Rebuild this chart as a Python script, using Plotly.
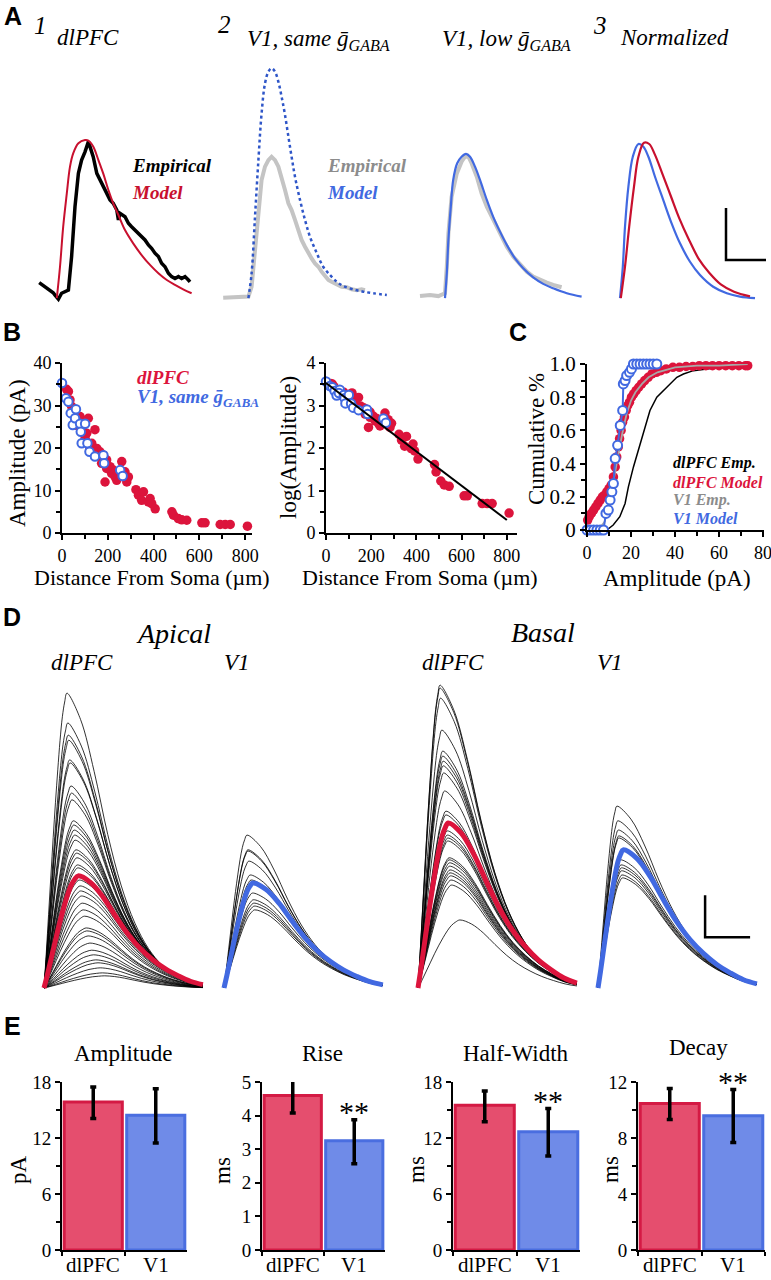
import math
import plotly.graph_objects as go

W, H = 771, 1280
SERIF = "Liberation Serif, Times New Roman, serif"
SANS = "Liberation Sans, Arial, sans-serif"

RED = "#DC143C"
RED_A = "#C8102E"
BLUE = "#4169E1"
BLUE_DOT = "#2F56C8"
GRAY = "#C4C4C4"
RED_FILL = "#E54E6E"
RED_EDGE = "#D41A44"
BLUE_FILL = "#6F8BE8"
BLUE_EDGE = "#4A6EE0"

# ---------------- Panel A : example currents (ms, pA) ----------------
A1_EMP_T = [0.3, 1.75, 3, 3.8, 4.25, 5.1, 5.9, 6.75, 7.6, 8.4, 9.25, 10.1, 10.9, 11.75, 12.6, 13, 13.8, 14.7, 15.5,
            16.3, 17.2, 18, 18.8, 19.7, 20.1, 20.5, 21.75, 22.6, 23.4, 24.25, 25.1, 25.9, 26.75, 27.6, 28.4, 29.25,
            30.1, 30.9, 31.75, 32.6, 33.4, 34.25, 35.1, 35.9, 36.75, 37.6, 38]
A1_EMP_I = [6.7, 5.1, 3.8, 2.8, 1.9, 0.3, 2.6, 3.2, 3.8, 16.7, 35.9, 48.7, 53.8, 57, 60.9, 59, 55.1, 48.7, 46.2,
            43.6, 41, 38.5, 37.2, 34.6, 30.8, 33.3, 32, 29.5, 28.2, 26.9, 25.7, 24.3, 23.1, 21.2, 19.9, 18,
            16.7, 14.1, 12.8, 10.3, 9, 8.3, 9, 8.3, 9, 7.7, 7]
A1_MODEL_T = [4.7, 5.5, 6.3, 7.2, 8, 8.8, 10.1, 11.75, 12.6, 13.8, 15.1, 16.3, 17.6, 18.8, 20.1, 21.75, 23.8, 25.9,
              28, 30.1, 32.2, 34.25, 36.3, 38.4]
A1_MODEL_I = [0.7, 12.8, 28.2, 41, 51.3, 56.4, 60.3, 61.5, 61.3, 59, 53.8, 48.7, 42.3, 37.2, 32.7, 26.9, 21.8, 17.3,
              13.5, 10.3, 7.7, 5.8, 4.1, 2.6]

A2_EMP_T = [0.3, 6.6, 7.4, 8.25, 9.1, 9.9, 10.75, 11.6, 12.4, 13.25, 14.1, 14.9, 15.75, 16.6, 17.4, 18.25, 19.1,
            19.9, 20.75, 21.6, 22.4, 23.25, 24.1, 24.9, 25.75, 26.6, 27.4, 28.25, 29.1, 29.9, 31.2, 32.4, 33.7,
            34.9, 35.75]
A2_EMP_I = [0.9, 1.3, 5.1, 19.2, 35.9, 46.2, 51.3, 53.8, 55.1, 53.8, 51.3, 47.4, 42.3, 37.2, 34.6, 30.8, 26.9,
            23.1, 20.5, 18, 16, 14.1, 12.8, 10.9, 9, 7.7, 7, 6.4, 5.8, 5.1, 4.9, 4.1, 3.8, 4.1, 3.8]
A2_MODEL_T = [6.6, 7.4, 8.25, 9.1, 9.9, 10.75, 11.6, 12.4, 13.25, 14.1, 14.9, 15.75, 16.6, 17.4, 18.25, 19.5,
              20.75, 22, 23.7, 25.3, 27, 28.7, 30.3, 32.8, 35.3, 37.8, 41.2]
A2_MODEL_I = [0.7, 10.3, 32, 53.8, 71.8, 83.3, 87.8, 89.1, 87.8, 83.9, 78.2, 71.2, 62.8, 55.1, 47.4, 38.5, 30.8,
              24.3, 18, 12.8, 9.6, 7, 5.4, 4.1, 3.2, 2.6, 1.9]

A3_EMP_T = [0.5, 3, 5.1, 6.75, 7.2, 7.6, 8.4, 9.7, 10.9, 11.75, 12.6, 13.4, 14.7, 15.9, 17.2, 18.8, 20.5, 22.2,
            23.8, 25.5, 27.2, 28.8, 30.5, 32.2, 33.8, 35.9]
A3_EMP_I = [1.5, 1.9, 1.5, 2.6, 12.8, 25.6, 39.7, 48.7, 53.2, 55.1, 55.1, 52.6, 47.4, 41, 35.9, 30.8, 25.6, 20.5,
            16.7, 13.5, 10.9, 9, 7.7, 6.7, 5.8, 4.9]
A3_MODEL_T = [6.75, 7.2, 7.6, 8.2, 8.8, 9.8, 10.9, 12, 13, 14.25, 15.5, 17.2, 18.8, 20.5, 22.2, 24.25, 26.3, 28.8,
              31.3, 33.8, 37.2, 40.9]
A3_MODEL_I = [0.7, 10.3, 23.1, 35.9, 46.2, 52.6, 55.1, 56.2, 55.1, 51.3, 46.2, 38.5, 32, 26.3, 21.2, 16, 12.2, 8.7,
              6.2, 4.5, 2.6, 1.3]

A4_V1_T = [0.5, 1.2, 1.75, 2.6, 3.7, 5.1, 6.3, 7.6, 9.25, 11.3, 13.4, 15.5, 18, 20.5, 23.8, 27.2, 30.5, 34.25]
A4_V1_I = [0.7, 12.8, 28.2, 43.6, 55.1, 60, 59, 55.1, 47.4, 38.5, 29.5, 21.8, 14.7, 9.6, 5.1, 2.6, 1.3, 0.7]
A4_DLPFC_T = [0.7, 1.75, 2.8, 4, 5.1, 6.5, 7.8, 9.2, 11.1, 13.2, 15.3, 17.8, 20.3, 22.8, 25.7, 29, 33]
A4_DLPFC_I = [0.7, 12.8, 28.2, 43.6, 55.1, 60.5, 60, 56, 48.5, 40, 31.5, 23, 15.5, 10.5, 6, 3.2, 1.4]

A_SCALE_MS, A_SCALE_PA = 10, 20
A_SCALE_AT = (27, 15.4)

# ---------------- Panel B : amplitude vs distance ----------------
B_DLPFC_DIST = [20, 28, 35, 42, 57, 79, 93, 115, 108, 144, 86, 130, 152, 166, 181, 195, 188, 210, 224, 239, 254, 261,
                275, 283, 290, 239, 217, 323, 334, 356, 348, 377, 385, 407, 392, 480, 487, 508, 523, 545, 611, 625,
                691, 713, 735, 810, 57, 71, 101, 122, 137, 159, 173, 195, 232, 246, 268]
B_DLPFC_AMP = [33.8, 33.3, 31.3, 29.8, 28.2, 27.4, 25.4, 27, 23.5, 24.3, 23.9, 21.1, 19.9, 19.1, 18.3, 17.2, 12, 15.6,
               14.8, 14, 13.6, 16.8, 14.4, 12, 13.2, 12.4, 14, 10.2, 8.9, 9.7, 7.7, 7.3, 8.1, 5.7, 6.9, 5, 4.2, 3.4,
               3.1, 3, 2.4, 2.4, 2, 2, 2, 1.6, 26.3, 25.2, 22.3, 19.9, 19.1, 18, 16.4, 15.2, 13.2, 14, 13.6]
B_V1_DIST = [0, 17, 28, 38, 47, 61, 57, 79, 82, 101, 86, 111, 120, 144, 181, 184, 254, 265]
B_V1_AMP = [35.3, 31.7, 30.9, 28.2, 25.4, 29.1, 27, 25.7, 23.8, 25.7, 21.1, 21.1, 19.1, 18, 18.3, 16.4, 14.8, 13.4]
B_FIT_X = [0, 800]
B_FIT_INTERCEPT, B_FIT_SLOPE = 3.53, -0.00403

# ---------------- Panel C : cumulative distributions ----------------
C_DLPFC_EMP_X = [0, 9.0, 11.9, 14.9, 17.3, 18.8, 21.1, 23.3, 25.6, 28.6, 31.7, 34.7, 37.7, 40.8, 43.8, 48.3, 54.4,
                 60.5, 66.5, 72.6]
C_DLPFC_EMP_Y = [0, 0, 0.03, 0.08, 0.16, 0.26, 0.38, 0.48, 0.58, 0.72, 0.80, 0.84, 0.88, 0.92, 0.94, 0.96, 0.97,
                 0.98, 0.98, 0.99]
C_V1_EMP_X = [5, 8, 10, 12, 14, 16, 18, 20, 22, 25, 28, 32, 40, 50, 60, 73]
C_V1_EMP_Y = [0, 0.05, 0.15, 0.3, 0.45, 0.58, 0.7, 0.78, 0.83, 0.88, 0.92, 0.95, 0.98, 0.99, 0.99, 1.0]
C_DLPFC_MODEL_X = [0.3, 1, 2, 3, 4, 5, 6, 7, 8, 9, 10, 11, 12, 12.8, 13.5, 14.2, 14.8, 15.5, 16.2, 17, 17.8, 18.5,
                   19.3, 20.2, 21.2, 22.3, 23.5, 24.8, 26.2, 27.8, 29.5, 31.5, 33.5, 36, 39, 42, 45, 48, 51, 54, 57,
                   60, 63, 66, 69, 72, 73]
C_DLPFC_MODEL_Y = [0.06, 0.08, 0.1, 0.12, 0.14, 0.16, 0.18, 0.2, 0.21, 0.23, 0.25, 0.27, 0.32, 0.38, 0.44, 0.5,
                   0.55, 0.6, 0.65, 0.68, 0.72, 0.75, 0.77, 0.8, 0.82, 0.84, 0.86, 0.88, 0.9, 0.92, 0.94, 0.95, 0.96,
                   0.97, 0.98, 0.98, 0.985, 0.985, 0.99, 0.99, 0.99, 0.99, 0.99, 0.99, 0.99, 0.99, 0.99]
C_V1_MODEL_X = [0, 1.5, 3, 4.5, 6, 7.5, 8.6, 9.7, 10.5, 11.3, 12, 12.8, 13.9, 15.1, 16.2, 16.5, 17.3, 18, 19.3, 20.2,
                21.1, 22.6, 24.1, 25.6, 27.1, 28.6, 30.1, 31.7]
C_V1_MODEL_Y = [0, 0, 0, 0, 0, 0, 0.1, 0.12, 0.18, 0.23, 0.28, 0.43, 0.51, 0.63, 0.72, 0.88, 0.9, 0.93, 0.95, 0.97,
                1, 1, 1, 1, 1, 1, 1, 1]

# ---------------- Panel D : simulated currents per synapse ----------------
D_APICAL_DLPFC_AMP = [70.2, 63.1, 60.2, 59.0, 54.3, 53.6, 48.1, 46.4, 44.8, 39.8, 38.8, 37.6, 36.4, 35.2, 32.9, 32.1,
                      31.0, 29.3, 28.6, 25.7, 24.3, 23.1, 21.9, 20.2, 18.6, 17.1, 14.3, 13.6, 12.4, 10.7, 9.0, 7.9,
                      6.7, 6.0, 4.8, 3.6, 2.9]
D_APICAL_DLPFC_TP = [5.1, 5.3, 5.4, 5.5, 5.7, 5.8, 6.0, 6.1, 6.2, 6.5, 6.6, 6.7, 6.8, 6.9, 7.1, 7.2, 7.3, 7.4, 7.5,
                     7.8, 8.0, 8.1, 8.3, 8.5, 8.7, 9.0, 9.4, 9.5, 9.8, 10.2, 10.6, 11.0, 11.5, 12.0, 12.5, 13.0, 13.5]
D_APICAL_DLPFC_MEAN = (26.7, 7.6)
D_APICAL_V1_AMP = [36.4, 32.9, 32.6, 30.2, 26.9, 25.7, 22.6, 21.0, 20.2, 19.5, 18.6]
D_APICAL_V1_TP = [5.1, 5.3, 5.3, 5.5, 5.8, 6.0, 6.3, 6.5, 6.6, 6.7, 6.8]
D_APICAL_V1_MEAN = (25.0, 6.4)
D_BASAL_DLPFC_AMP = [72.1, 71.4, 69.0, 61.4, 56.4, 55.2, 54.0, 52.9, 51.2, 46.9, 42.1, 41.2, 37.4, 36.4, 35.7, 35.0,
                     31.0, 30.5, 29.8, 29.0, 28.1, 27.4, 26.7, 25.7, 24.5, 16.2]
D_BASAL_DLPFC_TP = [4.9, 4.9, 5.0, 5.3, 5.5, 5.5, 5.6, 5.6, 5.7, 5.9, 6.2, 6.2, 6.5, 6.5, 6.6, 6.6, 6.9, 6.9, 7.0, 7.0,
                    7.1, 7.1, 7.2, 7.3, 7.4, 9.3]
D_BASAL_DLPFC_MEAN = (39.3, 6.7)
D_BASAL_V1_AMP = [43.3, 39.8, 37.6, 36.2, 35.7, 30.5, 29.3, 28.6, 27.9, 26.9, 26.2]
D_BASAL_V1_TP = [4.2, 4.4, 4.5, 4.6, 4.6, 5.0, 5.1, 5.2, 5.2, 5.3, 5.4]
D_BASAL_V1_MEAN = (32.9, 5.6)
D_T_END = 35.3
# waveform template (fractions of rise / decay time)
KNOT_FRAC = [0.0, 0.1, 0.2, 0.3, 0.4, 0.5, 0.6, 0.7, 0.8, 0.9, 1.0]
RISE_SHAPE = [0.0, 0.12, 0.25, 0.38, 0.51, 0.63, 0.74, 0.84, 0.92, 0.97, 1.0]
DECAY_SHAPE = [1.0, 0.94, 0.81, 0.64, 0.48, 0.35, 0.25, 0.17, 0.11, 0.06, 0.03]
MERGE_WEIGHT = [0.0, 0.05, 0.15, 0.3, 0.45, 0.6, 0.75, 0.88, 1.0, 1.0, 1.0]
D_SCALE_MS, D_SCALE_PA = 10, 10
D_SCALE_AT = (23.8, 12.1)

# ---------------- Panel E : summary bars ----------------
E_GROUPS = ["dlPFC", "V1"]
E_AMP_MEAN, E_AMP_LOW, E_AMP_HIGH = [15.86, 14.43], [14.08, 11.47], [17.46, 17.28]
E_RISE_MEAN, E_RISE_LOW, E_RISE_HIGH = [4.6, 3.25], [4.08, 2.57], [5.07, 3.88]
E_HW_MEAN, E_HW_LOW, E_HW_HIGH = [15.51, 12.67], [13.74, 10.08], [17.04, 15.16]
E_DECAY_MEAN, E_DECAY_LOW, E_DECAY_HIGH = [10.46, 9.59], [9.33, 7.67], [11.53, 11.46]
E_TITLES = ["Amplitude", "Rise", "Half-Width", "Decay"]
E_UNITS = ["pA", "ms", "ms", "ms"]
E_SIG = ["", "**", "**", "**"]


# ================= helpers =================
def dx(a, b):
    return [a / W, b / W]


def dy(top, bottom):
    return [1 - bottom / H, 1 - top / H]


def hidden(domain, rng, anchor):
    return dict(domain=domain, range=rng, visible=False, fixedrange=True, anchor=anchor, automargin=False)


def shown(domain, rng, anchor, dtick=None, minor=None, size=18, tickvals=None, ticktext=None, ticklen=5):
    ax = dict(domain=domain, range=rng, anchor=anchor, showline=True, linecolor="black", linewidth=2,
              ticks="outside", ticklen=ticklen, tickwidth=2, tickcolor="black", showgrid=False, zeroline=False,
              tickfont=dict(family=SERIF, size=size, color="black"), fixedrange=True, automargin=False,
              tickangle=0)
    if dtick is not None:
        ax.update(dtick=dtick, tick0=0)
    if tickvals is not None:
        ax.update(tickmode="array", tickvals=tickvals, ticktext=ticktext)
    if minor is not None:
        ax["minor"] = dict(ticks="outside", dtick=minor, tick0=0, ticklen=4, tickwidth=1.5, tickcolor="black",
                           showgrid=False)
    return ax


def epsc(amp, tp, mean_amp, t_end):
    t = [tp * f for f in KNOT_FRAC] + [tp + (t_end - tp) * f for f in KNOT_FRAC[1:]]
    y = [amp * r for r in RISE_SHAPE]
    if amp > mean_amp:
        y += [d * (amp * (1 - w) + mean_amp * w) for d, w in zip(DECAY_SHAPE[1:], MERGE_WEIGHT[1:])]
    else:
        y += [amp * d for d in DECAY_SHAPE[1:]]
    return t, y


fig = go.Figure()
layout = {}

# ---------------- Panel A axes ----------------
A_PX_MS, A_PX_PA = 4.0, 2.6
A_YDOM = dy(55, 305)
A_YRNG = [-(305 - 300) / A_PX_PA, (300 - 55) / A_PX_PA]
A_PANELS = [(36, 206, 38), (220, 392, 222), (416, 588, 418), (616, 771, 618)]
for i, (l, r, o) in enumerate(A_PANELS, start=1):
    n = "" if i == 1 else str(i)
    layout["xaxis" + n] = hidden(dx(l, r), [(l - o) / A_PX_MS, (r - o) / A_PX_MS], "y" + n)
    layout["yaxis" + n] = hidden(A_YDOM, A_YRNG, "x" + n)


def line(x, y, ax, color, width, dash="solid", shape="linear"):
    return go.Scatter(x=x, y=y, xaxis="x" + ax, yaxis="y" + ax, mode="lines",
                      line=dict(color=color, width=width, dash=dash, shape=shape), hoverinfo="skip")


fig.add_trace(line(A1_EMP_T, A1_EMP_I, "", "black", 3.5))
fig.add_trace(line(A1_MODEL_T, A1_MODEL_I, "", RED_A, 2, shape="spline"))
fig.add_trace(line(A2_EMP_T, A2_EMP_I, "2", GRAY, 4))
fig.add_trace(line(A2_MODEL_T, A2_MODEL_I, "2", BLUE_DOT, 2.5, dash="dot", shape="spline"))
fig.add_trace(line(A3_EMP_T, A3_EMP_I, "3", GRAY, 4))
fig.add_trace(line(A3_MODEL_T, A3_MODEL_I, "3", BLUE, 2.2, shape="spline"))
fig.add_trace(line(A4_V1_T, A4_V1_I, "4", BLUE, 2.2, shape="spline"))
fig.add_trace(line(A4_DLPFC_T, A4_DLPFC_I, "4", RED_A, 2.2, shape="spline"))
sx, sy = A_SCALE_AT
fig.add_trace(line([sx, sx, sx + A_SCALE_MS], [sy + A_SCALE_PA, sy, sy], "4", "black", 2.5))

# ---------------- Panel B ----------------
layout["xaxis5"] = shown(dx(62, 252), [0, 830], "y5", dtick=200, minor=100)
layout["yaxis5"] = shown(dy(363, 533), [0, 40], "x5", dtick=10, minor=5)
layout["xaxis6"] = shown(dx(326, 517), [0, 845], "y6", dtick=200, minor=100)
layout["yaxis6"] = shown(dy(363, 533), [0, 4], "x6", dtick=1, minor=0.5)

fig.add_trace(go.Scatter(x=B_DLPFC_DIST, y=B_DLPFC_AMP, xaxis="x5", yaxis="y5", mode="markers", cliponaxis=False,
                         marker=dict(color=RED, size=9.5, line=dict(width=0)), hoverinfo="skip"))
fig.add_trace(go.Scatter(x=B_V1_DIST, y=B_V1_AMP, xaxis="x5", yaxis="y5", mode="markers", cliponaxis=False,
                         marker=dict(color="white", size=8.5, line=dict(color=BLUE, width=2)), hoverinfo="skip"))
fig.add_trace(go.Scatter(x=B_DLPFC_DIST, y=[math.log(a) for a in B_DLPFC_AMP], xaxis="x6", yaxis="y6",
                         mode="markers", cliponaxis=False,
                         marker=dict(color=RED, size=9.5, line=dict(width=0)), hoverinfo="skip"))
fig.add_trace(go.Scatter(x=B_V1_DIST, y=[math.log(a) for a in B_V1_AMP], xaxis="x6", yaxis="y6", mode="markers",
                         cliponaxis=False, marker=dict(color="white", size=8.5, line=dict(color=BLUE, width=2)),
                         hoverinfo="skip"))
fig.add_trace(line(B_FIT_X, [B_FIT_INTERCEPT + B_FIT_SLOPE * x for x in B_FIT_X], "6", "black", 2))

# ---------------- Panel C ----------------
layout["xaxis7"] = shown(dx(587, 764), [0, 80.4], "y7", dtick=20, minor=10)
layout["xaxis7"]["ticklabeloverflow"] = "allow"
layout["yaxis7"] = shown(dy(364, 530), [0, 1], "x7", minor=0.1, size=21,
                         tickvals=[0, 0.2, 0.4, 0.6, 0.8, 1.0], ticktext=["0", "0.2", "0.4", "0.6", "0.8", "1.0"])
fig.add_trace(line(C_DLPFC_EMP_X, C_DLPFC_EMP_Y, "7", "black", 1.5))
fig.add_trace(go.Scatter(x=C_DLPFC_MODEL_X, y=C_DLPFC_MODEL_Y, xaxis="x7", yaxis="y7", mode="lines+markers",
                         cliponaxis=False, line=dict(color=RED, width=3),
                         marker=dict(color=RED, size=9.5, line=dict(width=0)), hoverinfo="skip"))
fig.add_trace(line(C_V1_EMP_X, C_V1_EMP_Y, "7", "#A8A8A8", 1.8))
fig.add_trace(go.Scatter(x=C_V1_MODEL_X, y=C_V1_MODEL_Y, xaxis="x7", yaxis="y7", mode="lines+markers",
                         cliponaxis=False, line=dict(color=BLUE, width=2),
                         marker=dict(color="white", size=9, line=dict(color=BLUE, width=2)), hoverinfo="skip"))

# ---------------- Panel D ----------------
D_PX_MS, D_PX_PA = 4.5, 4.2
D_BASE, D_TOP, D_BOT = 988, 672, 993
D_YDOM = dy(D_TOP, D_BOT)
D_YRNG = [-(D_BOT - D_BASE) / D_PX_PA, (D_BASE - D_TOP) / D_PX_PA]
D_GROUPS = [
    (44, D_APICAL_DLPFC_AMP, D_APICAL_DLPFC_TP, D_APICAL_DLPFC_MEAN, RED),
    (224, D_APICAL_V1_AMP, D_APICAL_V1_TP, D_APICAL_V1_MEAN, BLUE),
    (418, D_BASAL_DLPFC_AMP, D_BASAL_DLPFC_TP, D_BASAL_DLPFC_MEAN, RED),
    (598, D_BASAL_V1_AMP, D_BASAL_V1_TP, D_BASAL_V1_MEAN, BLUE),
]
for k, (onset, amps, tps, (m_amp, m_tp), col) in enumerate(D_GROUPS):
    n = str(8 + k)
    l, r = onset - 4, onset + 168
    layout["xaxis" + n] = hidden(dx(l, r), [(l - onset) / D_PX_MS, (r - onset) / D_PX_MS], "y" + n)
    layout["yaxis" + n] = hidden(D_YDOM, D_YRNG, "x" + n)
    for a, tp in zip(amps, tps):
        t, y = epsc(a, tp, m_amp, D_T_END)
        fig.add_trace(line(t, y, n, "rgba(0,0,0,0.8)", 1.0, shape="spline"))
    t, y = epsc(m_amp, m_tp, m_amp, D_T_END)
    fig.add_trace(line(t, y, n, col, 5, shape="spline"))
sx, sy = D_SCALE_AT
fig.add_trace(line([sx, sx, sx + D_SCALE_MS], [sy + D_SCALE_PA, sy, sy], "11", "black", 2.5))

# ---------------- Panel E ----------------
E_DATA = [
    (E_AMP_MEAN, E_AMP_LOW, E_AMP_HIGH, 18, 6, 3),
    (E_RISE_MEAN, E_RISE_LOW, E_RISE_HIGH, 5, 1, None),
    (E_HW_MEAN, E_HW_LOW, E_HW_HIGH, 18, 6, 3),
    (E_DECAY_MEAN, E_DECAY_LOW, E_DECAY_HIGH, 12, 4, 2),
]
E_XPX = [(62, 187), (262, 385), (453, 580), (638, 765)]
annotations = []
for k, ((mean, low, high, top, dt, mdt), (l, r)) in enumerate(zip(E_DATA, E_XPX)):
    n = str(12 + k)
    xa = shown(dx(l, r), [-0.5, 1.5], "y" + n, size=21, ticklen=4)
    xa.update(type="category", tickson="boundaries", showticklabels=False)
    layout["xaxis" + n] = xa
    layout["yaxis" + n] = shown(dy(1082, 1250), [0, top], "x" + n, dtick=dt, minor=mdt, size=19)
    fig.add_trace(go.Bar(
        x=E_GROUPS, y=mean, xaxis="x" + n, yaxis="y" + n,
        marker=dict(color=[RED_FILL, BLUE_FILL], line=dict(color=[RED_EDGE, BLUE_EDGE], width=3)),
        error_y=dict(type="data", symmetric=False, array=[h - m for h, m in zip(high, mean)],
                     arrayminus=[m - lo for m, lo in zip(mean, low)], color="black", thickness=3.5, width=3),
        hoverinfo="skip"))
    for gi, g in enumerate(E_GROUPS):
        annotations.append(dict(x=gi, y=1 - 1265 / H, xref="x" + n, yref="paper", text=g, showarrow=False,
                                font=dict(family=SERIF, size=21, color="black"), xanchor="center",
                                yanchor="middle"))
    if E_SIG[k]:
        annotations.append(dict(x=1, y=high[1], xref="x" + n, yref="y" + n, text=E_SIG[k], showarrow=False,
                                font=dict(family=SERIF, size=30, color="black"), xanchor="center",
                                yanchor="middle", yshift=8))


# ---------------- text ----------------
def txt(x, y, text, size, family=SERIF, color="black", xanchor="center", angle=0):
    return dict(x=x / W, y=1 - y / H, xref="paper", yref="paper", text=text, showarrow=False,
                font=dict(family=family, size=size, color=color), xanchor=xanchor, yanchor="middle",
                textangle=angle)


GB = "\u1e21"
for lbl, x, y in [("A", 13, 16), ("B", 12, 332), ("C", 518, 332), ("D", 12, 617), ("E", 12, 1026)]:
    annotations.append(txt(x, y, "<b>%s</b>" % lbl, 25, SANS))

annotations += [
    txt(40, 25, "<i>1</i>", 25),
    txt(88, 38, "<i>dlPFC</i>", 23),
    txt(224, 24, "<i>2</i>", 25),
    txt(245, 40, "<i>V1, same %s<sub>GABA</sub></i>" % GB, 23, xanchor="left"),
    txt(440, 40, "<i>V1, low %s<sub>GABA</sub></i>" % GB, 23, xanchor="left"),
    txt(600, 26, "<i>3</i>", 25),
    txt(618, 37, "<i>Normalized</i>", 23, xanchor="left"),
    txt(130, 166, "<b><i>Empirical</i></b>", 19, xanchor="left"),
    txt(130, 192, "<b><i>Model</i></b>", 19, color=RED_A, xanchor="left"),
    txt(325, 166, "<b><i>Empirical</i></b>", 19, color="#8C8C8C", xanchor="left"),
    txt(325, 192, "<b><i>Model</i></b>", 19, color=BLUE, xanchor="left"),
    # B
    txt(135, 377, "<b><i>dlPFC</i></b>", 19, color=RED, xanchor="left"),
    txt(135, 398, "<b><i>V1, same %s<sub>GABA</sub></i></b>" % GB, 19, color=BLUE, xanchor="left"),
    txt(17, 453, "Amplitude (pA)", 23, angle=-90),
    txt(152, 577, "Distance From Soma (\u00b5m)", 22),
    txt(288, 448, "log(Amplitude)", 23, angle=-90),
    txt(420, 577, "Distance From Soma (\u00b5m)", 22),
    # C
    txt(536, 439, "Cumulative %", 23, angle=-90),
    txt(677, 578, "Amplitude (pA)", 23),
    txt(671, 463, "<b><i>dlPFC Emp.</i></b>", 16, xanchor="left"),
    txt(671, 482, "<b><i>dlPFC Model</i></b>", 16, color=RED, xanchor="left"),
    txt(671, 500, "<b><i>V1 Emp.</i></b>", 16, color="#8C8C8C", xanchor="left"),
    txt(671, 518, "<b><i>V1 Model</i></b>", 16, color=BLUE, xanchor="left"),
    # D
    txt(173, 633, "<i>Apical</i>", 28),
    txt(543, 632, "<i>Basal</i>", 28),
    txt(82, 662, "<i>dlPFC</i>", 23),
    txt(237, 662, "<i>V1</i>", 23),
    txt(453, 662, "<i>dlPFC</i>", 23),
    txt(610, 662, "<i>V1</i>", 23),
]
for title, unit, tx, ty, ux in zip(E_TITLES, E_UNITS, [123, 322, 516, 698], [1053, 1053, 1053, 1047],
                                   [18, 222, 416, 610]):
    annotations.append(txt(tx, ty, title, 23))
    annotations.append(txt(ux, 1170, unit, 23, angle=-90))

fig.update_layout(
    width=W, height=H, autosize=False, margin=dict(l=0, r=0, t=0, b=0, autoexpand=False),
    paper_bgcolor="white", plot_bgcolor="white", showlegend=False, bargap=0.07,
    annotations=annotations, **layout)

fig.write_html("out.html", config={"displayModeBar": False},
               post_script="document.body.style.margin='0px';document.body.style.padding='0px';"
                           "document.body.style.overflow='hidden';")
